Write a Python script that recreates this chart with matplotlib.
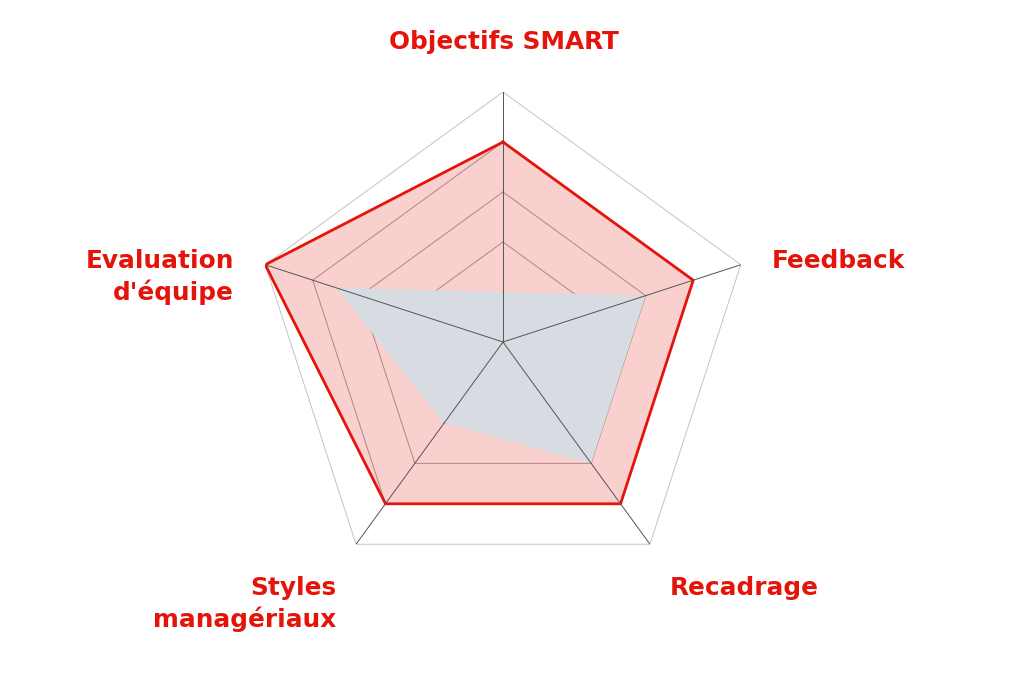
import numpy as np
import matplotlib.pyplot as plt

# axes of the radar, clockwise from the top
categories = ["Objectifs SMART", "Feedback", "Recadrage",
              "Styles\nmanagériaux", "Evaluation\nd'équipe"]
target_scores = [0.8, 0.8, 0.8, 0.8, 1.0]
current_scores = [0.2, 0.6, 0.6, 0.4, 0.7]
grid_levels = [0.2, 0.4, 0.6, 0.8, 1.0]

RED = "#e5140a"
GREY_FILL = "#d7dbe2"

W, H = 1024, 683
fig = plt.figure(figsize=(W / 100, H / 100), dpi=100)

# centre (503, 342) px, radius 250 px
cx, cy, rad = 503, 342, 250
ax = fig.add_axes([(cx - rad) / W, (H - cy - rad) / H, 2 * rad / W, 2 * rad / H],
                  projection="polar")
ax.set_theta_offset(np.pi / 2)
ax.set_theta_direction(-1)
ax.set_ylim(0, 1)
ax.grid(False)
ax.spines["polar"].set_visible(False)
ax.set_xticks([])
ax.set_yticks([])
ax.patch.set_alpha(0)

n = len(categories)
theta = np.linspace(0, 2 * np.pi, n, endpoint=False)
theta_c = np.append(theta, theta[0])


def closed(vals):
    return np.append(vals, vals[0])


# polygon grid rings
for lv in grid_levels:
    ring = np.full(n, lv)
    col = "#c4c4c4" if lv == grid_levels[-1] else "#a8a0a0"
    ax.plot(theta_c, closed(ring), color=col, lw=0.7, zorder=1)

# target series (red)
ax.fill(theta_c, closed(target_scores), color=RED, alpha=0.2, lw=0, zorder=2)
ax.plot(theta_c, closed(target_scores), color=RED, lw=2.0, zorder=4)

# current series (grey)
ax.fill(theta_c, closed(current_scores), color=GREY_FILL, lw=0, zorder=3)

# spokes
for t in theta:
    ax.plot([t, t], [0, grid_levels[-1]], color="#555555", lw=0.7, zorder=5)

# labels (pixel positions: x, baseline y of first line, alignment)
label_pos = [(504, 49, "center"), (772, 268, "left"), (670, 595, "left"),
             (336, 595, "right"), (234, 268, "right")]
font = dict(family=["DejaVu Sans"], fontweight="bold",
            fontsize=17.8, color=RED)
for lab, (x, y, ha) in zip(categories, label_pos):
    fig.text(x / W, 1 - y / H, lab.split("\n")[0], ha=ha, va="baseline", **font)
    if "\n" in lab:
        fig.text(x / W, 1 - (y + 32) / H, lab.split("\n")[1], ha=ha,
                 va="baseline", **font)

fig.savefig("out.png", dpi=100, facecolor="white")
